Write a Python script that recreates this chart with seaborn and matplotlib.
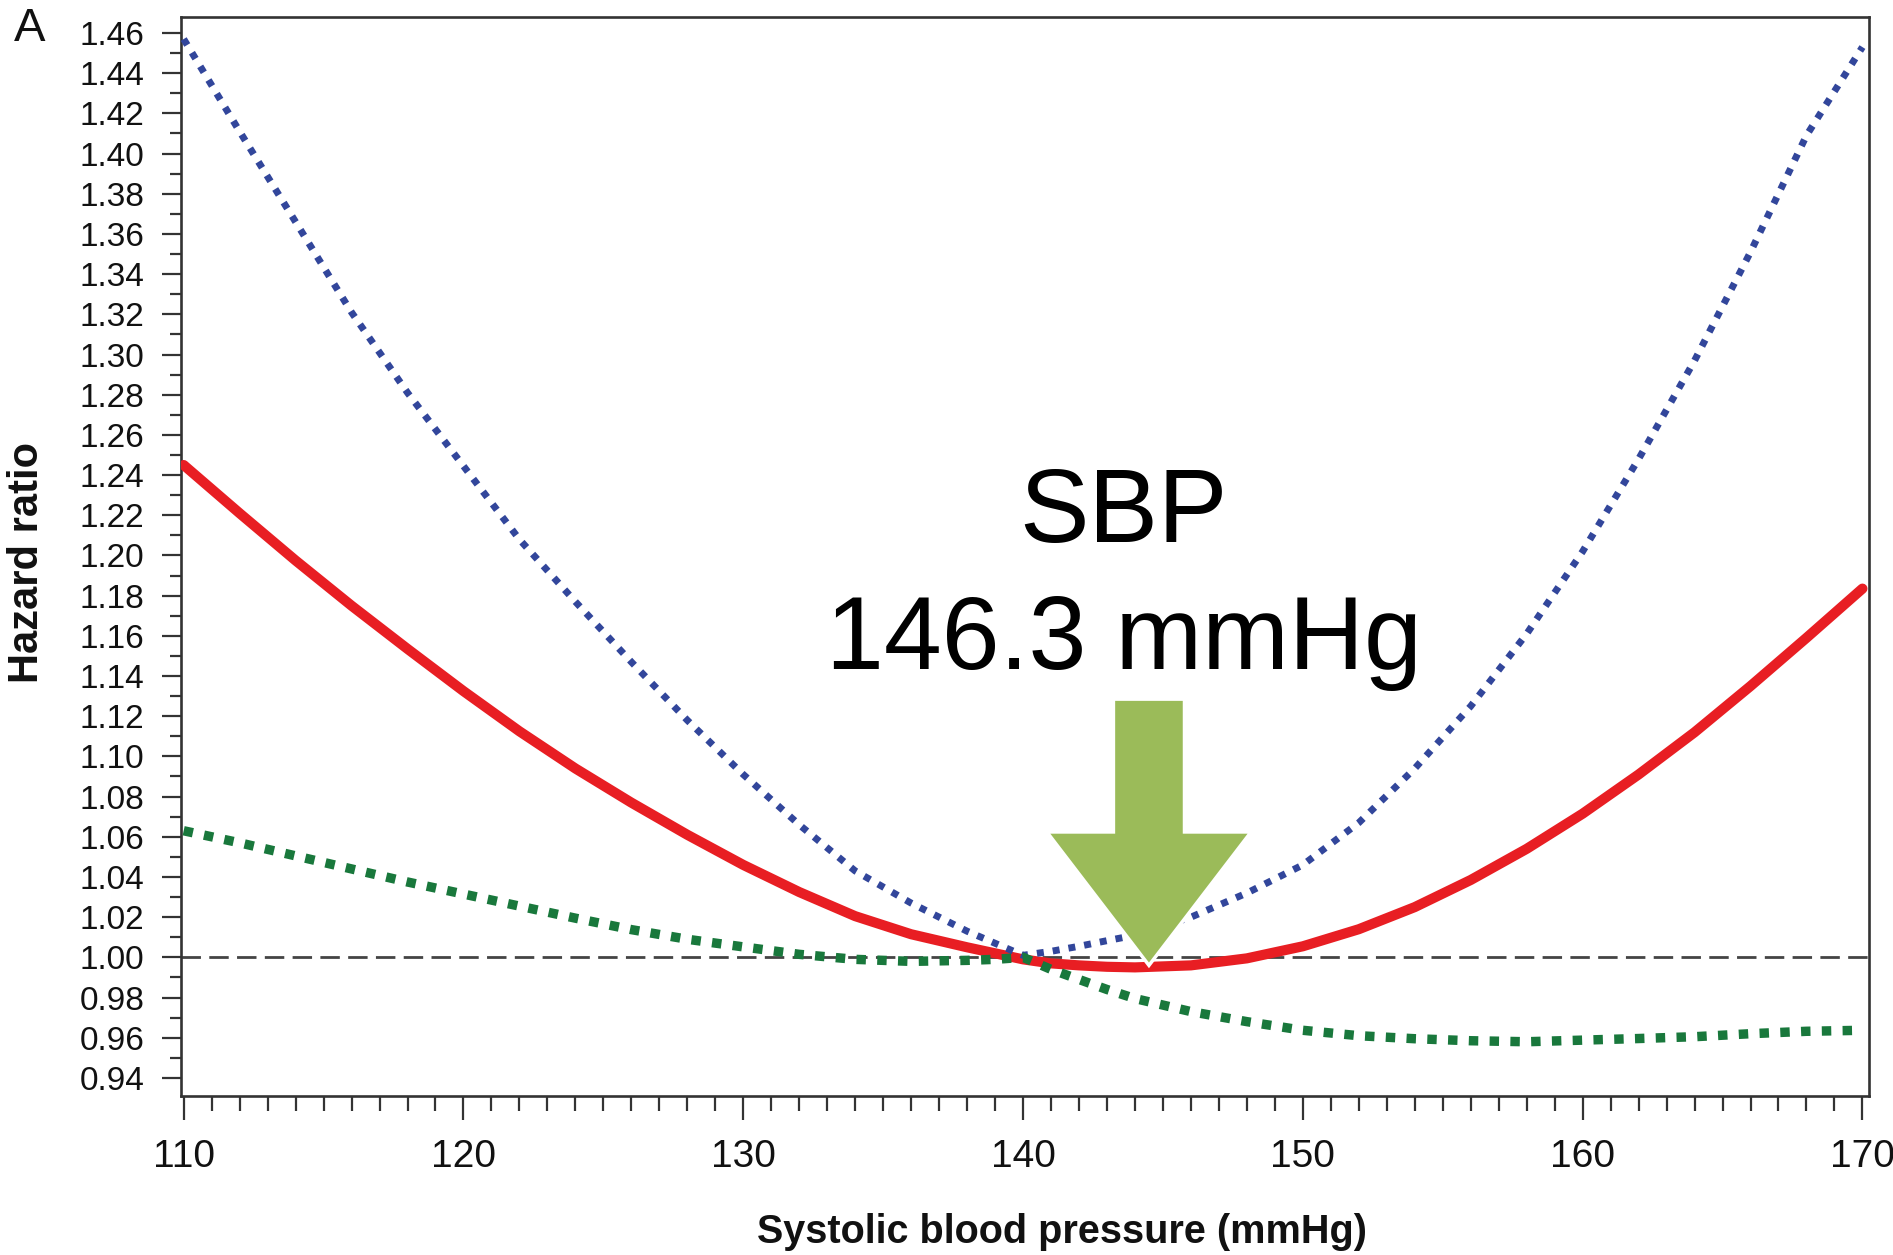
import matplotlib
matplotlib.use("Agg")
import numpy as np
import pandas as pd
import seaborn as sns
import matplotlib.pyplot as plt
from matplotlib import font_manager
from matplotlib.ticker import MultipleLocator, FormatStrFormatter
from matplotlib.patches import FancyArrow
from matplotlib.transforms import ScaledTranslation

# Systolic blood pressure grid (mmHg)
sbp = [110, 112, 114, 116, 118, 120, 122, 124, 126, 128, 130, 132, 134, 136, 138,
       139, 140, 141, 142, 143, 144, 146, 148, 150, 152, 154, 156, 158, 160, 162,
       164, 166, 168, 170]

# Hazard ratios relative to SBP 140 mmHg
hr_blue = [1.457, 1.411, 1.366, 1.321, 1.281, 1.2445, 1.208, 1.177, 1.147, 1.118,
           1.091, 1.066, 1.043, 1.027, 1.013, 1.007, 1.001, 1.003, 1.0055, 1.0083,
           1.011, 1.020, 1.032, 1.046, 1.067, 1.094, 1.125, 1.161, 1.202, 1.248,
           1.297, 1.351, 1.409, 1.453]
hr_red = [1.245, 1.221, 1.1975, 1.175, 1.1535, 1.1325, 1.1125, 1.094, 1.077, 1.061,
          1.046, 1.0325, 1.0205, 1.0115, 1.005, 1.002, 0.999, 0.997, 0.996, 0.9953,
          0.995, 0.996, 0.9995, 1.0055, 1.014, 1.025, 1.0385, 1.054, 1.0715, 1.091,
          1.112, 1.135, 1.159, 1.1835]
hr_green = [1.063, 1.057, 1.0505, 1.044, 1.0375, 1.0315, 1.0255, 1.0195, 1.0138, 1.009,
            1.0052, 1.0015, 0.999, 0.998, 0.9985, 0.999, 1.000, 0.994, 0.989, 0.984,
            0.9795, 0.973, 0.968, 0.9637, 0.961, 0.9595, 0.9585, 0.958, 0.9588, 0.9596,
            0.9605, 0.962, 0.9632, 0.9637]

# Optimum annotation
opt_label = ["SBP", "146.3 mmHg"]
arrow_x = 144.5

df = pd.DataFrame({"sbp": sbp, "blue": hr_blue, "red": hr_red, "green": hr_green})

sns.set_theme(style="ticks")
plt.rcParams["font.family"] = ["Liberation Sans", "DejaVu Sans"]
plt.rcParams["axes.edgecolor"] = "#333333"
plt.rcParams["axes.linewidth"] = 1.9

installed = {f.name for f in font_manager.fontManager.ttflist}
narrow = "Liberation Sans Narrow" in installed
tick_family = ["Liberation Sans Narrow", "Liberation Sans"] if narrow else ["Liberation Sans"]
xtick_size = 32 if narrow else 28
ytick_size = 27 if narrow else 24

fig = plt.figure(figsize=(18.93, 12.55), dpi=100)
ax = fig.add_axes([0.0954, 0.1267, 0.892, 0.8598])
ax.set_facecolor("white")

ax.axhline(1.0, color="#444444", lw=2.0, dashes=(7, 3), zorder=1)

sns.lineplot(data=df, x="sbp", y="red", ax=ax, color="#E81E23", linewidth=7.3,
             estimator=None, zorder=3)
ax.lines[-1].set_solid_capstyle("round")
ax.lines[-1].set_solid_joinstyle("round")

sns.lineplot(data=df, x="sbp", y="blue", ax=ax, color="#32469B", linewidth=5.0,
             estimator=None, zorder=4)
ax.lines[-1].set_linestyle((0, (1.0, 1.3)))

sns.lineplot(data=df, x="sbp", y="green", ax=ax, color="#19783C", linewidth=6.8,
             estimator=None, zorder=4)
ax.lines[-1].set_linestyle((0, (1.0, 1.2)))

ax.set_xlim(109.89, 170.24)
ax.set_ylim(0.931, 1.468)

ax.xaxis.set_major_locator(MultipleLocator(10))
ax.xaxis.set_minor_locator(MultipleLocator(1))
ax.yaxis.set_major_locator(MultipleLocator(0.02))
ax.yaxis.set_minor_locator(MultipleLocator(0.01))
ax.yaxis.set_major_formatter(FormatStrFormatter("%.2f"))

ax.tick_params(axis="x", which="major", direction="out", length=17, width=1.6,
               labelsize=xtick_size, pad=14, color="#333333", labelcolor="#111111")
ax.tick_params(axis="x", which="minor", direction="out", length=11, width=1.6,
               color="#333333")
ax.tick_params(axis="y", which="major", direction="out", length=14, width=1.6,
               labelsize=ytick_size, pad=12, color="#333333", labelcolor="#111111")
ax.tick_params(axis="y", which="minor", direction="out", length=8, width=1.6,
               color="#333333")
ax.tick_params(top=False, right=False, which="both")
for s in ax.spines.values():
    s.set_visible(True)

fig.canvas.draw()
for lab in ax.get_xticklabels() + ax.get_yticklabels():
    lab.set_family(tick_family)
# keep the last x tick label inside the canvas
last = ax.get_xticklabels()[-1]
last.set_transform(last.get_transform() + ScaledTranslation(-7 / 100, 0, fig.dpi_scale_trans))

ax.set_xlabel("Systolic blood pressure (mmHg)", fontsize=28.5, fontweight="bold",
              color="#111111")
ax.xaxis.set_label_coords(0.522, -0.1085)
ax.set_ylabel("Hazard ratio", fontsize=30, fontweight="bold", color="#111111")
ax.yaxis.set_label_coords(-0.079, 0.494)

# Arrow pointing at the nadir of the curve
arrow = FancyArrow(arrow_x, 1.1285, 0, 0.996 - 1.1285, width=2.54, head_width=7.3,
                   head_length=0.0664, length_includes_head=True,
                   facecolor="#9BBB59", edgecolor="white", linewidth=2.5, zorder=6)
ax.add_patch(arrow)

ax.text(143.6, 1.2066, opt_label[0], ha="center", va="baseline", fontsize=75,
        color="black", zorder=7)
ax.text(143.6, 1.1433, opt_label[1], ha="center", va="baseline", fontsize=75,
        color="black", zorder=7)

fig.text(30 / 1893, 1 - 29 / 1255, "A", ha="center", va="center", fontsize=34,
         color="#111111")

fig.savefig("out.png", dpi=100, facecolor="white")
